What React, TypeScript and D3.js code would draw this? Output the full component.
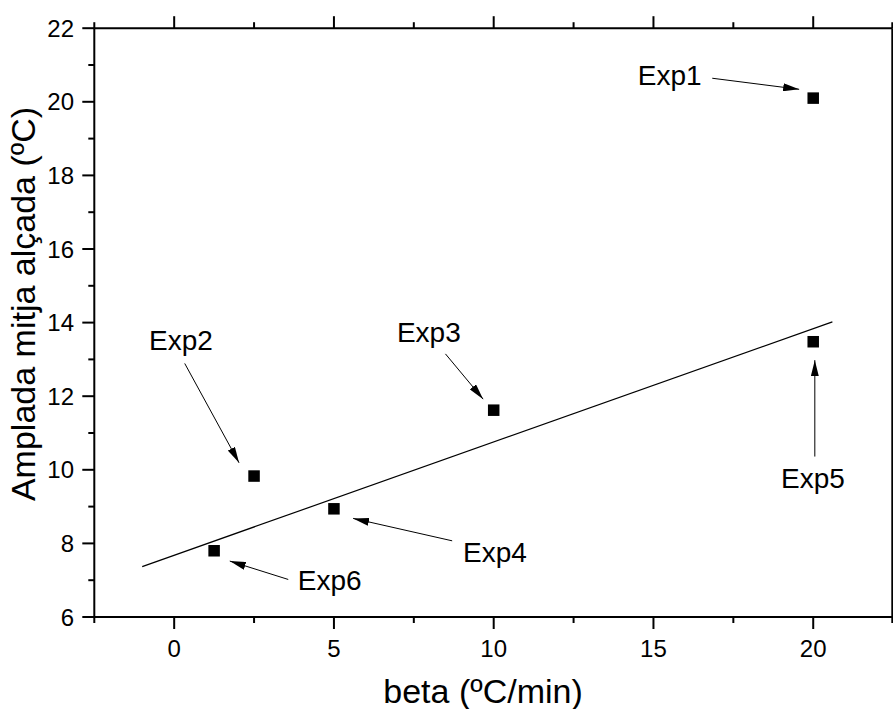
import React from "react";
import * as d3 from "d3";

// ---- data ----
const expNames = ["Exp1", "Exp2", "Exp3", "Exp4", "Exp5", "Exp6"];
const betaValues = [20, 2.5, 10, 5, 20, 1.25];
const ampladaValues = [20.1, 9.83, 11.62, 8.94, 13.48, 7.8];

// fitted straight line (end points)
const fitX = [-1, 20.6];
const fitY = [7.37, 14.02];

// annotation text anchors and arrows, in data units
const labelX = [15.51, 0.21, 7.97, 10.04, 19.99, 4.87];
const labelY = [20.46, 13.26, 13.48, 7.5, 9.5, 6.73];
const arrowFromX = [16.84, 0.33, 8.49, 8.7, 20.05, 3.57];
const arrowFromY = [20.64, 12.89, 13.15, 8.07, 10.36, 7.02];
const arrowToX = [19.56, 2.03, 9.67, 5.6, 20.05, 1.74];
const arrowToY = [20.34, 10.19, 11.92, 8.68, 12.98, 7.52];

const xMajorTicks = [0, 5, 10, 15, 20];
const xMinorTicks = [-2.5, 2.5, 7.5, 12.5, 17.5, 22.5];
const yMajorTicks = [6, 8, 10, 12, 14, 16, 18, 20, 22];
const yMinorTicks = [7, 9, 11, 13, 15, 17, 19, 21];

const xTitle = "beta (ºC/min)";
const yTitle = "Amplada mitja alçada (ºC)";

const W = 893;
const H = 709;
const FONT = "'Liberation Sans', Arial, Helvetica, sans-serif";

export default function App() {
  const x = d3.scaleLinear().domain([-2.5, 22.5]).range([94.3, 893.1]);
  const y = d3.scaleLinear().domain([6, 22]).range([617, 28.2]);
  const left = x(-2.5);
  const right = 892.3;
  const top = y(22);
  const bottom = y(6);
  const MAJ = 12;
  const MIN = 6;
  const line = d3.line<number>().x((d, i) => x(fitX[i])).y((d, i) => y(fitY[i]));
  const markerSize = 11.5;

  return (
    <svg
      width={W}
      height={H}
      style={{ position: "absolute", left: 0, top: 0, background: "#fff" }}
      fontFamily={FONT}
    >
      <defs>
        <marker
          id="ah"
          viewBox="0 0 16 8"
          refX={16}
          refY={4}
          markerWidth={16}
          markerHeight={8}
          markerUnits="userSpaceOnUse"
          orient="auto"
        >
          <path d="M0,0 L16,4 L0,8 Z" fill="#000" />
        </marker>
      </defs>
      <rect width={W} height={H} fill="#fff" />

      {/* fit line */}
      <path d={line(fitX) || ""} stroke="#000" strokeWidth={1.2} fill="none" />

      {/* points */}
      {betaValues.map((b, i) => (
        <rect
          key={"p" + i}
          x={x(b) - markerSize / 2}
          y={y(ampladaValues[i]) - markerSize / 2}
          width={markerSize}
          height={markerSize}
          fill="#000"
        />
      ))}

      {/* annotations */}
      {expNames.map((n, i) => (
        <g key={"a" + i}>
          <line
            x1={x(arrowFromX[i])}
            y1={y(arrowFromY[i])}
            x2={x(arrowToX[i])}
            y2={y(arrowToY[i])}
            stroke="#000"
            strokeWidth={1}
            markerEnd="url(#ah)"
          />
          <text x={x(labelX[i])} y={y(labelY[i])} fontSize={28} textAnchor="middle" fill="#000">
            {n}
          </text>
        </g>
      ))}

      {/* frame */}
      <g stroke="#000" strokeWidth={2} fill="none">
        <line x1={left} y1={top} x2={right} y2={top} />
        <line x1={left} y1={bottom} x2={right} y2={bottom} />
        <line x1={left} y1={top} x2={left} y2={bottom} />
        <line x1={right} y1={top} x2={right} y2={bottom} />
      </g>

      {/* x ticks bottom & top */}
      <g stroke="#000" strokeWidth={2}>
        {xMajorTicks.map((t) => (
          <g key={"xm" + t}>
            <line x1={x(t)} x2={x(t)} y1={bottom} y2={bottom + MAJ} />
            <line x1={x(t)} x2={x(t)} y1={top} y2={top - MAJ} />
          </g>
        ))}
        {xMinorTicks.map((t) => {
          const xx = Math.min(x(t), right);
          return (
            <g key={"xn" + t}>
              <line x1={xx} x2={xx} y1={bottom} y2={bottom + MIN} />
              <line x1={xx} x2={xx} y1={top} y2={top - MIN} />
            </g>
          );
        })}
        {yMajorTicks.map((t) => (
          <line key={"ym" + t} x1={left} x2={left - MAJ} y1={y(t)} y2={y(t)} />
        ))}
        {yMinorTicks.map((t) => (
          <line key={"yn" + t} x1={left} x2={left - MIN} y1={y(t)} y2={y(t)} />
        ))}
      </g>

      {/* tick labels */}
      {xMajorTicks.map((t) => (
        <text key={"xl" + t} x={x(t)} y={657} fontSize={24} textAnchor="middle" fill="#000">
          {t}
        </text>
      ))}
      {yMajorTicks.map((t) => (
        <text key={"yl" + t} x={74} y={y(t) + 8.6} fontSize={24} textAnchor="end" fill="#000">
          {t}
        </text>
      ))}

      {/* axis titles */}
      <text x={483} y={703} fontSize={34} textAnchor="middle" fill="#000">
        {xTitle}
      </text>
      <text
        transform={`translate(35,${304}) rotate(-90)`}
        fontSize={34}
        textAnchor="middle"
        fill="#000"
      >
        {yTitle}
      </text>
    </svg>
  );
}
